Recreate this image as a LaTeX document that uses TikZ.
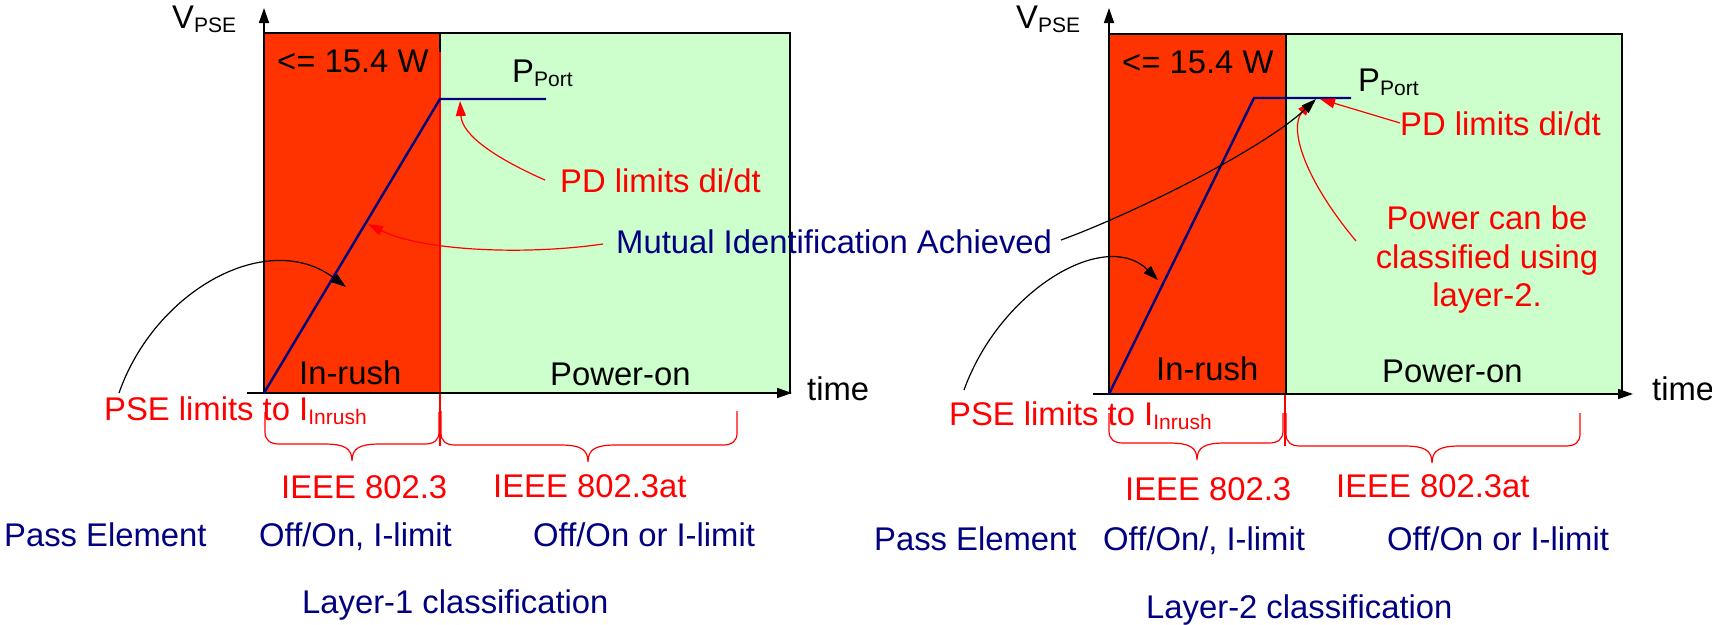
\documentclass[tikz,border=0pt]{standalone}
\usepackage{fontspec}
\setmainfont{Liberation Sans}
\usetikzlibrary{arrows.meta}
\definecolor{hot}{HTML}{FF3300}
\definecolor{mint}{HTML}{CCFFCC}
\definecolor{navy}{HTML}{000080}
\definecolor{pure}{HTML}{FF0000}
\newcommand{\sbx}[1]{{\fontsize{21}{21}\selectfont\raisebox{-4pt}{#1}}}
\newcommand{\cbrace}[6]{%
  \draw[brc] (#1,#3) -- (#1,#4-12) .. controls (#1,#4-4) and (#1+5,#4) .. (#1+14,#4)
    -- (#5-28,#4) .. controls (#5-8,#4) and (#5,#4+4) .. (#5,#6)
    .. controls (#5,#4+4) and (#5+8,#4) .. (#5+28,#4)
    -- (#2-14,#4) .. controls (#2-5,#4) and (#2,#4-4) .. (#2,#4-12) -- (#2,#3);}
\begin{document}
\begin{tikzpicture}[x=1pt,y=-1pt,
  txt/.style={inner sep=0pt, anchor=base west, font=\fontsize{32.8}{39}\selectfont},
  rtxt/.style={txt, text=pure},
  btxt/.style={txt, text=navy},
  ctxt/.style={txt, anchor=base},
  axisline/.style={line width=1.6pt, -{Triangle[length=15pt,width=10pt]}},
  border/.style={draw=black, line width=1.2pt},
  vline/.style={draw=navy, line width=2.4pt, line join=miter},
  redarrow/.style={draw=pure, line width=1.2pt, -{Triangle[length=15pt,width=10pt]}},
  blkarrow/.style={draw=black, line width=1.2pt, -{Triangle[length=15pt,width=10pt]}},
  brc/.style={draw=pure, line width=1.2pt},
  divred/.style={draw=pure, line width=1.4pt}
]
\useasboundingbox (0,0) rectangle (1712,624);

% ================= LEFT PANEL =================
\fill[hot] (264,33) rectangle (440,393);
\fill[mint] (440,33) rectangle (790,393);
\draw[border] (264,33) rectangle (790,393);
\draw[border] (440,33) -- (440,393);
\draw[divred] (440,52) -- (440,446);

\coordinate (LyB) at (264,393);
\coordinate (LyT) at (264,8);
\coordinate (LxL) at (247,393);
\coordinate (LxR) at (792,393);
\draw[axisline] (LyB) -- (LyT);
\draw[axisline] (LxL) -- (LxR);

\coordinate (Lb0) at (264,393);
\coordinate (Lb1) at (440,99);
\coordinate (Lb2) at (546,99);
\draw[vline] (Lb0) -- (Lb1) -- (Lb2);

\node[txt] (LV) at (172,28) {V\sbx{PSE}};
\node[txt] (LW) at (277,72) {<= 15.4 W};
\node[txt] (LP) at (512,82) {P\sbx{Port}};
\node[rtxt] (LPD) at (560,192) {PD limits di/dt};
\node[btxt] (MIA) at (616,253) {Mutual Identification Achieved};
\node[txt] (LIn) at (299,384) {In-rush};
\node[txt] (LPo) at (550,385) {Power-on};
\node[txt] (Lt) at (807,400) {time};
\node[rtxt] (LPSE) at (104,420) {PSE limits to I\sbx{Inrush}};

\coordinate (LpdS) at (545,180);
\coordinate (LpdT) at (460,101);
\draw[redarrow] (LpdS) .. controls (495,158) and (462,135) .. (LpdT);

\coordinate (LmS) at (603,244);
\coordinate (LmT) at (368,224);
\draw[redarrow] (LmS) .. controls (520,256) and (420,250) .. (LmT);

\coordinate (LpS) at (119,393);
\coordinate (LpT) at (346,287);
\draw[blkarrow] (LpS) .. controls (155,290) and (268,228) .. (LpT);

\cbrace{265}{439}{412}{444}{352}{461}
\cbrace{441}{737}{411}{445}{588}{462}

\node[rtxt] (LI1) at (281,498) {IEEE 802.3};
\node[rtxt] (LI2) at (493,497) {IEEE 802.3at};
\node[btxt] (LPE) at (4,546) {Pass Element};
\node[btxt] (LO1) at (259,546) {Off/On, I-limit};
\node[btxt] (LO2) at (533,546) {Off/On or I-limit};
\node[btxt] (LL) at (302,613) {Layer-1 classification};

% ================= RIGHT PANEL =================
\fill[hot] (1109,34) rectangle (1286,394);
\fill[mint] (1286,34) rectangle (1622,394);
\draw[border] (1109,34) rectangle (1622,394);
\draw[border] (1286,34) -- (1286,394);
\draw[divred] (1285,394) -- (1285,446);

\coordinate (RyB) at (1109,394);
\coordinate (RyT) at (1109,8);
\coordinate (RxL) at (1093,394);
\coordinate (RxR) at (1633,394);
\draw[axisline] (RyB) -- (RyT);
\draw[axisline] (RxL) -- (RxR);

\coordinate (Rb0) at (1109,394);
\coordinate (Rb1) at (1254,98);
\coordinate (Rb2) at (1351,98);
\draw[vline] (Rb0) -- (Rb1) -- (Rb2);

\node[txt] (RV) at (1016,28) {V\sbx{PSE}};
\node[txt] (RW) at (1122,73) {<= 15.4 W};
\node[txt] (RP) at (1358,91) {P\sbx{Port}};
\node[rtxt] (RPD) at (1400,135) {PD limits di/dt};
\node[ctxt, text=pure] (RPC1) at (1487,229) {Power can be};
\node[ctxt, text=pure] (RPC2) at (1487,268) {classified using};
\node[ctxt, text=pure] (RPC3) at (1487,306) {layer-2.};
\node[txt] (RIn) at (1156,380) {In-rush};
\node[txt] (RPo) at (1382,382) {Power-on};
\node[txt] (Rt) at (1652,400) {time};
\node[rtxt] (RPSE) at (949,425) {PSE limits to I\sbx{Inrush}};

\coordinate (RpcS) at (1356,241);
\coordinate (RpcT) at (1312,101);
\draw[redarrow] (RpcS) .. controls (1305,180) and (1288,128) .. (RpcT);

\coordinate (RmS) at (1061,240);
\coordinate (RmT) at (1316,99);
\draw[blkarrow] (RmS) .. controls (1130,215) and (1262,150) .. (RmT);

\coordinate (RpdS) at (1400,123);
\coordinate (RpdT) at (1320,99);
\draw[redarrow] (RpdS) -- (RpdT);

\coordinate (RpS) at (964,390);
\coordinate (RpT) at (1158,280);
\draw[blkarrow] (RpS) .. controls (1000,290) and (1105,228) .. (RpT);

\cbrace{1109}{1283}{413}{443}{1197}{460}
\cbrace{1286}{1580}{413}{446}{1432}{463}

\node[rtxt] (RI1) at (1125,500) {IEEE 802.3};
\node[rtxt] (RI2) at (1336,497) {IEEE 802.3at};
\node[btxt] (RPE) at (874,550) {Pass Element};
\node[btxt] (RO1) at (1103,550) {Off/On/, I-limit};
\node[btxt] (RO2) at (1387,550) {Off/On or I-limit};
\node[btxt] (RL) at (1146,618) {Layer-2 classification};
\end{tikzpicture}
\end{document}
